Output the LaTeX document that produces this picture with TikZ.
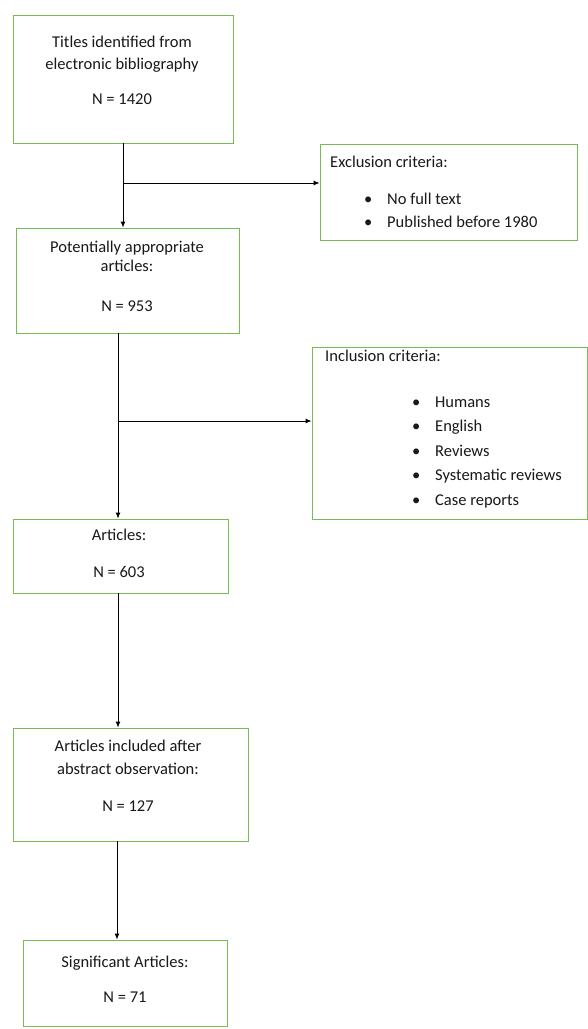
\documentclass[tikz,border=0pt]{standalone}
\usepackage{fontspec}
\setmainfont{Carlito}
\usetikzlibrary{arrows.meta}
\definecolor{boxgreen}{RGB}{120,186,84}
\begin{document}
\begin{tikzpicture}[x=1pt,y=-1pt,
  box/.style={draw=boxgreen,line width=0.9pt,rectangle,inner sep=0pt},
  txt/.style={inner sep=0pt,font=\fontsize{16.5}{19}\selectfont,text=black!90,yshift=-2pt},
  lt/.style={txt,anchor=mid west},
  arr/.style={draw=black,line width=0.9pt,-{Latex[length=6pt,width=5pt]}}]
\useasboundingbox[fill=white] (0,0) rectangle (588,1029);
% boxes
\node[box,minimum width=220pt,minimum height=128pt] (b1) at (123,79) {};
\node[box,minimum width=223pt,minimum height=105pt] (b2) at (127.5,280.5) {};
\node[box,minimum width=257pt,minimum height=96pt] (ex) at (448.5,192) {};
\node[box,minimum width=275pt,minimum height=172pt] (in) at (449.5,433) {};
\node[box,minimum width=215pt,minimum height=74pt] (b3) at (120.5,556) {};
\node[box,minimum width=235pt,minimum height=113pt] (b4) at (130.5,784.5) {};
\node[box,minimum width=204pt,minimum height=86pt] (b5) at (125,983) {};
% box texts
\node[txt,anchor=mid] (t1a) at (122,43) {Titles identified from};
\node[txt,anchor=mid] (t1b) at (122,65) {electronic bibliography};
\node[txt,anchor=mid] (t1c) at (122,100) {N = 1420};
\node[txt,anchor=mid] (t2a) at (127,248) {Potentially appropriate};
\node[txt,anchor=mid] (t2b) at (127,267) {articles:};
\node[txt,anchor=mid] (t2c) at (127,307) {N = 953};
\node[txt,anchor=mid] (t3a) at (119,536) {Articles:};
\node[txt,anchor=mid] (t3b) at (119,573) {N = 603};
\node[txt,anchor=mid] (t4a) at (128,747) {Articles included after};
\node[txt,anchor=mid] (t4b) at (128,770) {abstract observation:};
\node[txt,anchor=mid] (t4c) at (128,807) {N = 127};
\node[txt,anchor=mid] (t5a) at (125,963) {Significant Articles:};
\node[txt,anchor=mid] (t5b) at (125,998) {N = 71};
% exclusion
\node[lt] (exh) at (330,163) {Exclusion criteria:};
\node[lt] (exb1) at (364,200) {\textbullet};
\node[lt] (ex1) at (387,200) {No full text};
\node[lt] (exb2) at (364,223) {\textbullet};
\node[lt] (ex2) at (387,223) {Published before 1980};
% inclusion
\node[lt] (inh) at (325,357) {Inclusion criteria:};
\foreach \y/\t [count=\i] in {403/Humans,427.5/English,452/Reviews,476.5/Systematic reviews,501/Case reports}{
  \node[lt] (inb\i) at (412,\y) {\textbullet};
  \node[lt] (in\i) at (435,\y) {\t};
}
% connectors
\coordinate (s1) at (123,143);
\coordinate (j1) at (123,183);
\draw[arr] (s1) -- (s1 |- b2.north);
\draw[arr] (j1) -- (j1 -| ex.west);
\coordinate (s2) at (118,333);
\coordinate (j2) at (118,421);
\draw[arr] (s2) -- (s2 |- b3.north);
\draw[arr] (j2) -- (j2 -| in.west);
\coordinate (s3) at (118,593);
\draw[arr] (s3) -- (s3 |- b4.north);
\coordinate (s4) at (117,841);
\draw[arr] (s4) -- (s4 |- b5.north);
\end{tikzpicture}
\end{document}
